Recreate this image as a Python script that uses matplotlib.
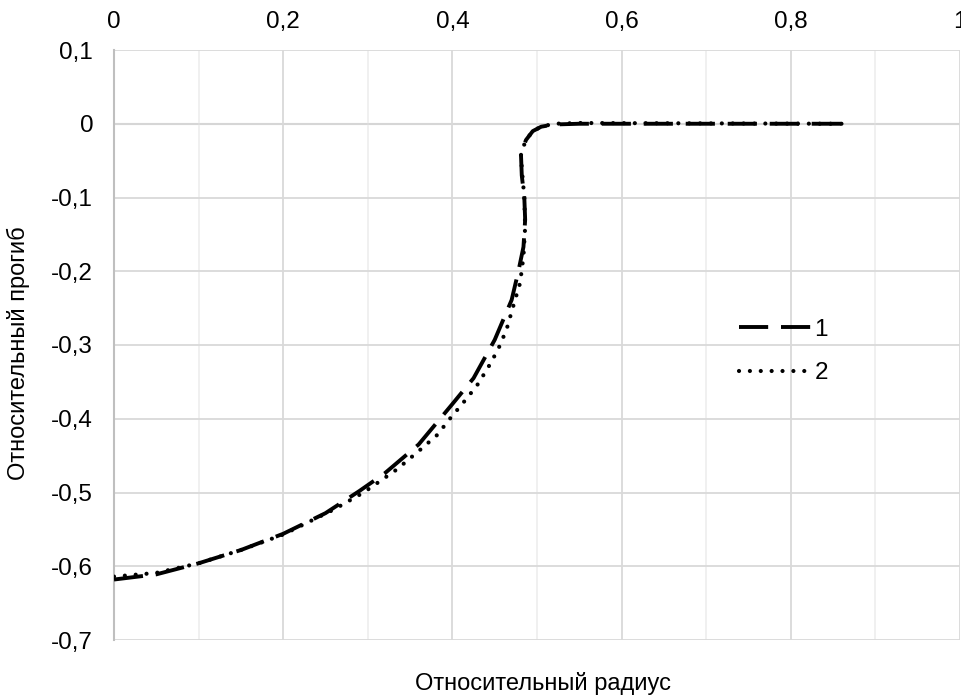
import matplotlib
matplotlib.use('Agg')
import matplotlib.pyplot as plt
from matplotlib.ticker import MultipleLocator, FuncFormatter

plt.rcParams['font.family'] = ['Liberation Sans', 'DejaVu Sans']

# кривая 1 (штриховая)
x1 = [0, 0.05, 0.1, 0.15, 0.2, 0.25, 0.29, 0.32, 0.36, 0.40, 0.425, 0.45,
      0.47, 0.478, 0.484, 0.486, 0.485, 0.482, 0.481, 0.487, 0.495, 0.505,
      0.52, 0.55, 0.86]
y1 = [-0.618, -0.611, -0.596, -0.578, -0.556, -0.528, -0.498, -0.474, -0.435,
      -0.38, -0.345, -0.293, -0.239, -0.2, -0.167, -0.13, -0.1, -0.07, -0.04,
      -0.022, -0.01, -0.004, -0.001, 0.0, 0.0]

# кривая 2 (пунктирная)
x2 = [0, 0.05, 0.1, 0.15, 0.2, 0.26, 0.295, 0.334, 0.362, 0.382, 0.397,
      0.413, 0.429, 0.442, 0.454, 0.464, 0.474, 0.48, 0.484, 0.486, 0.485,
      0.482, 0.481, 0.487, 0.495, 0.505, 0.52, 0.55, 0.86]
y2 = [-0.614, -0.609, -0.596, -0.578, -0.557, -0.523, -0.5, -0.469, -0.442,
      -0.422, -0.4, -0.378, -0.355, -0.331, -0.306, -0.279, -0.239, -0.216,
      -0.18, -0.14, -0.1, -0.06, -0.04, -0.022, -0.01, -0.004, 0.0, 0.001, 0.0]

labels = ['1', '2']

fig = plt.figure(figsize=(9.61, 6.97), dpi=100)
ax = fig.add_axes([114 / 961, 57 / 697, 846 / 961, 590 / 697])

ax.plot(x1, y1, color='black', lw=2.8, linestyle=(0, (7.5, 3.3)),
        label=labels[0], zorder=3)
ax.plot(x2, y2, color='black', lw=3.0, linestyle=(0, (0.01, 2.6)),
        dash_capstyle='round', label=labels[1], zorder=3)

ax.set_xlim(0, 1)
ax.set_ylim(-0.7, 0.1)

ax.xaxis.set_major_locator(MultipleLocator(0.2))
ax.xaxis.set_minor_locator(MultipleLocator(0.1))
ax.yaxis.set_major_locator(MultipleLocator(0.1))

fmt = FuncFormatter(lambda v, p: ('%g' % round(v, 2)).replace('.', ','))
ax.xaxis.set_major_formatter(fmt)
ax.yaxis.set_major_formatter(fmt)

ax.xaxis.tick_top()
ax.tick_params(axis='both', which='both', length=0, labelsize=17.5)
ax.tick_params(axis='x', pad=12)
ax.tick_params(axis='y', pad=15)

# сетка
ax.grid(True, which='major', axis='both', color='#d9d9d9', lw=1.3, zorder=0)
ax.grid(True, which='minor', axis='x', color='#efefef', lw=1.3, zorder=0)
ax.axhline(0, color='#bfbfbf', lw=1.5, zorder=1)

for s in ['top', 'right', 'bottom']:
    ax.spines[s].set_visible(False)
ax.spines['left'].set_color('#bfbfbf')
ax.spines['left'].set_linewidth(1.5)

ax.set_xlabel('Относительный радиус', fontsize=17)
ax.xaxis.set_label_coords(0.507, -0.073)
ax.xaxis.label.set_va('center')
ax.set_ylabel('Относительный прогиб', fontsize=17)
ax.yaxis.set_label_coords(-0.113, 0.486)
ax.yaxis.label.set_va('center')

leg = ax.legend(loc='upper left', bbox_to_anchor=(0.713, 0.582), frameon=False,
                fontsize=17.5, handlelength=2.95, handletextpad=0.15,
                labelspacing=0.9)

fig.savefig('out.png', dpi=100)
